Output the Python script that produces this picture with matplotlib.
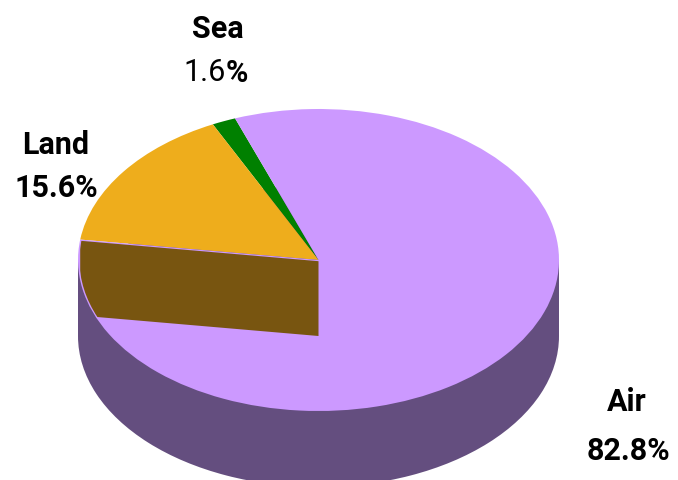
import numpy as np
import matplotlib
matplotlib.use("Agg")
import matplotlib.pyplot as plt
from matplotlib.patches import Circle, Polygon

W, H = 678, 481

# pie layout in pixels
CX, CY = 318.5, 261
RX, RY = 240.5, 151
DEPTH = 76 / RY

labels = ["Sea", "Land", "Air"]
values = [1.6, 15.6, 82.8]
colors = ["#008000", "#EEAD1C", "#CC99FF"]
side_color = "#644E7F"
wall_color = "#785510"

plt.rcParams["font.family"] = ["Roboto", "DejaVu Sans"]

fig = plt.figure(figsize=(W / 100, H / 100), dpi=100)
ax = fig.add_axes([0, 0, 1, 1])

# extruded side: lower ellipse plus the band between both ellipses
ax.pie([1], colors=[side_color], center=(0, -DEPTH), radius=1)
ax.bar(0, DEPTH, width=2, bottom=-DEPTH, color=side_color, linewidth=0)

start = 110.3
ax.pie(values, colors=colors, startangle=start, counterclock=True, radius=1,
       wedgeprops={"linewidth": 0})

# inner wall under the Land slice, clipped to the top ellipse
edge = np.deg2rad(start + (values[0] + values[1]) * 3.6)
ex, ey = np.cos(edge), np.sin(edge)
gap = 1.2 / RY
wall = Polygon([(ex, ey - gap), (0, -gap), (0, -DEPTH), (ex, ey - DEPTH)],
               closed=True, facecolor=wall_color, edgecolor="none", zorder=5)
ax.add_patch(wall)
wall.set_clip_path(Circle((0, 0), 0.994, transform=ax.transData))

ax.set_aspect("auto")
ax.set_xlim(-CX / RX, (W - CX) / RX)
ax.set_ylim((CY - H) / RY, CY / RY)
ax.axis("off")

FS = 22


def label(px, py, text, ha="center", weight="bold"):
    fig.text(px / W, 1 - py / H, text, ha=ha, va="center", color="black",
             fontsize=FS, fontweight=weight)


label(218, 29, labels[0])
# the reference draws the digits of this one in regular weight
label(226, 73, "1.6", ha="right", weight="normal")
label(226, 73, "%", ha="left")
label(56, 145, labels[1])
label(56, 188, f"{values[1]}%")
label(627, 402, labels[2])
label(628, 451, f"{values[2]}%")

fig.savefig("out.png", dpi=100)
